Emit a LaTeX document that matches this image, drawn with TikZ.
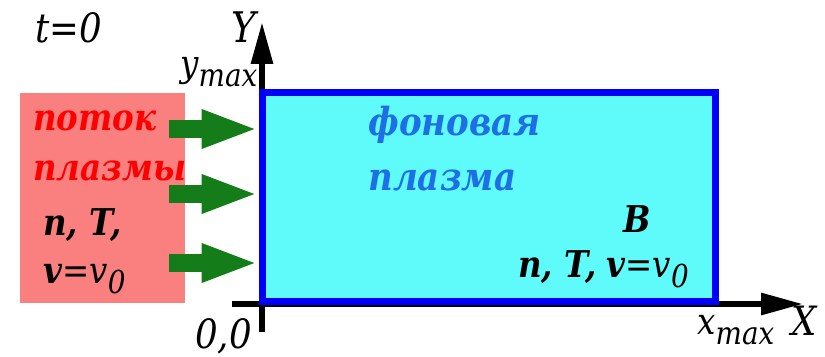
\documentclass[tikz,border=0pt]{standalone}
\usepackage{fontspec}
\setmainfont{DejaVu Serif}[FakeStretch=0.88]
\usetikzlibrary{arrows.meta,positioning}

\definecolor{flowpink}{RGB}{250,128,128}
\definecolor{bgcyan}{RGB}{95,250,250}
\definecolor{edgeblue}{RGB}{0,0,250}
\definecolor{arrowgreen}{RGB}{20,125,25}
\definecolor{textblue}{RGB}{30,110,230}

\newcommand{\idx}[1]{\raisebox{-0.28em}{\fontsize{18}{18}\selectfont #1}}

\begin{document}
\begin{tikzpicture}[
    x=0.02cm, y=-0.02cm,
    axis/.style={draw=black, line width=0.12cm, -{Triangle[length=0.84cm,width=0.42cm]}},
    flowbox/.style={rectangle, fill=flowpink, minimum width=3.3cm, minimum height=4.2cm},
    plasmabox/.style={rectangle, draw=edgeblue, fill=bgcyan, line width=0.14cm,
        minimum width=9.08cm, minimum height=4.2cm},
    inflow/.style={draw=arrowgreen, line width=0.35cm, -{Triangle[length=1.14cm,width=0.7cm]}},
    lbl/.style={anchor=base west, inner sep=0pt, font=\fontsize{21}{25}\selectfont\itshape},
    boldlbl/.style={lbl, font=\fontsize{21}{25}\selectfont\bfseries\itshape},
    biglbl/.style={lbl, font=\fontsize{23}{27}\selectfont\itshape},
    bluelbl/.style={lbl, text=textblue, font=\fontsize{22}{26}\selectfont\bfseries\itshape}
]
\useasboundingbox (0,0) rectangle (825,356);

% Axes
\coordinate (origin) at (262,304);
\coordinate (ybot) at (262,332);
\coordinate (ytip) at (262,22);
\coordinate (xleft) at (232,304);
\coordinate (xtip) at (803,304);
\draw[axis] (ybot) -- (ytip);
\draw[axis] (xleft) -- (xtip);

% Boxes
\node[flowbox] (flow) at (102.5,198) {};
\node[plasmabox] (plasma) at (489,197) {};

% Inflow arrows
\foreach \yy/\nm in {129/a, 194/b, 263/c} {
    \coordinate (start\nm) at (169,\yy);
    \draw[inflow] (start\nm) -- (start\nm -| plasma.west);
}

% Labels
\node[biglbl] (time) at (35,42) {t=0};
\node[biglbl, font=\fontsize{24}{28}\selectfont\itshape] (ylab) at (231,42) {Y};
\node[lbl] (ymax) at (180,76) {y\idx{max}};
\node[biglbl] (zero) at (195,348) {0,0};
\node[lbl] (xmax) at (697,334) {x\idx{max}};
\node[biglbl] (xlab) at (791,335) {X};

\node[boldlbl, text=red] (potok) at (33,130) {поток};
\node[boldlbl, text=red] (plazmy) at (33,180) {плазмы};
\node[boldlbl] (nt) at (43,235) {n, T,};
\node[lbl] (vel) at (43,283) {\textbf{v}=v\idx{0}};

\node[bluelbl] (fon) at (368,135) {фоновая};
\node[bluelbl] (plazma) at (368,190) {плазма};
\node[boldlbl] (field) at (623,232) {B};
\node[lbl] (params) at (518,277) {\textbf{n, T,} \textbf{v}=v\idx{0}};
\end{tikzpicture}
\end{document}
